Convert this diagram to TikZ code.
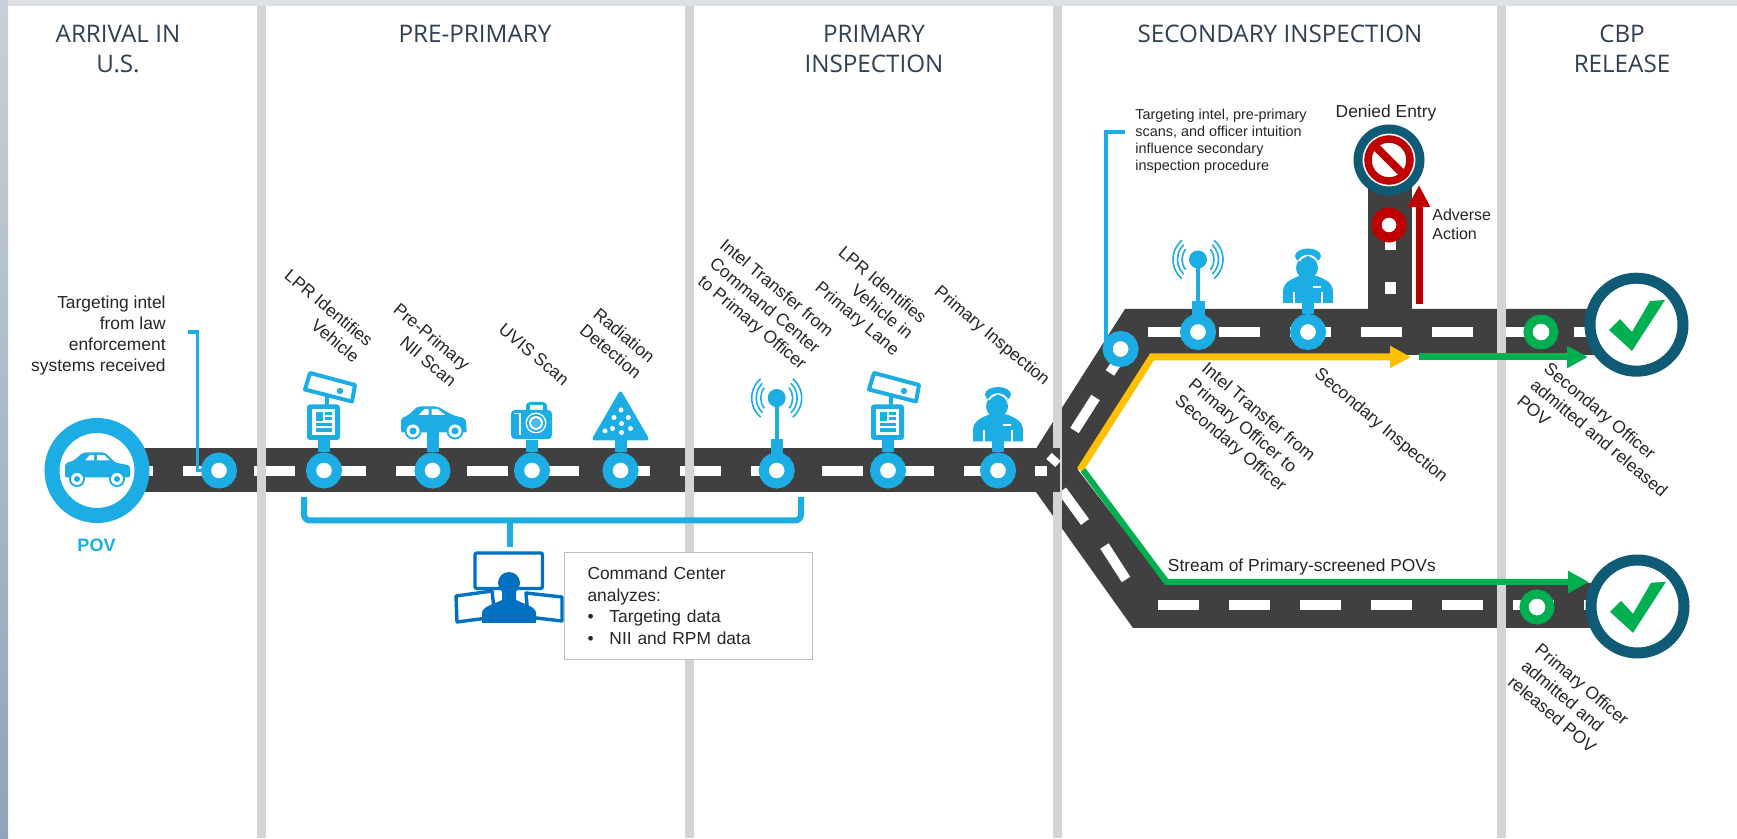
\documentclass[tikz,border=0pt]{standalone}
\usepackage{fontspec}
\setmainfont{Liberation Sans}
\newfontfamily\titlefont{Open Sans}
\usetikzlibrary{arrows.meta,calc}
\definecolor{stopblue}{HTML}{1CADE4}
\definecolor{cmdblue}{HTML}{0070C0}
\definecolor{roadgray}{HTML}{404040}
\definecolor{dividergray}{HTML}{D4D4D4}
\definecolor{titleink}{HTML}{2E4052}
\definecolor{ringteal}{HTML}{0F5A75}
\definecolor{okgreen}{HTML}{00B050}
\definecolor{stopred}{HTML}{C00000}
\definecolor{routeyellow}{HTML}{FFC000}
\definecolor{frametop}{HTML}{DDE1E6}
\definecolor{stripupper}{HTML}{C8D0D7}
\definecolor{striplower}{HTML}{8FA4B8}
\tikzstyle{phasetitle}=[font=\titlefont\fontsize{12.1}{15}\selectfont,text=titleink,align=center,inner sep=0pt]
\tikzstyle{stoplabel}=[font=\fontsize{8.7}{10.5}\selectfont,text=black!85,rotate=-40,align=right,anchor=east,inner sep=0pt]
\tikzstyle{stoplabelleft}=[stoplabel,align=left,anchor=west]
\tikzstyle{plainlabel}=[font=\fontsize{8.7}{10.5}\selectfont,text=black!85,inner sep=0pt]
\tikzstyle{stopring}=[circle,draw=stopblue,fill=white,line width=5pt,minimum size=13pt,inner sep=0pt]
\tikzstyle{greenring}=[stopring,draw=okgreen,line width=4.5pt,minimum size=13pt]
\tikzstyle{stopstem}=[line width=6pt,stopblue]
\tikzstyle{roaddash}=[line width=5pt,white]
\tikzstyle{checkring}=[circle,draw=ringteal,fill=white,line width=5.5pt,minimum size=46.5pt,inner sep=0pt]
\tikzstyle{feedline}=[line width=2pt,stopblue]
\tikzstyle{routeline}=[line width=3.5pt,-{Triangle[length=10.5pt,width=10.5pt]}]

\newcommand{\drawLPR}[1]{
\begin{scope}[shift={(#1.center)}]
	\draw[stopstem] (#1.north) -- ++(0,-12);
	\fill[stopblue] (1,-76) rectangle (5,-64);
	\draw[stopblue,fill=white,line width=2pt,line join=round] (-14,-97.5) -- (31,-85.5) -- (28,-69) -- (-19,-81) -- cycle;
	\fill[stopblue] (16,-79.5) circle (3.2);
	\fill[stopblue,rounded corners=1.5pt] (-17,-66) rectangle (16,-30.5);
	\fill[white] (-12,-61.5) rectangle (11,-35.5);
	\fill[stopblue] (-8,-58) rectangle (-1,-49);
	\fill[stopblue] (1,-58) rectangle (8,-55);
	\fill[stopblue] (1,-53) rectangle (8,-50);
	\fill[stopblue] (-8,-47) rectangle (8,-44);
	\fill[stopblue] (-8,-42) rectangle (8,-38.5);
\end{scope}
}
\newcommand{\drawauto}[1]{
\begin{scope}[shift={(#1.center)}]
	\draw[stopstem] (#1.north) -- ++(0,-20);
	\fill[stopblue,rounded corners=1pt] (-31.5,-38) -- (-31.5,-52) -- (-24,-55.5) -- (-15,-64) -- (5,-64) -- (20,-55.5) -- (33,-52) -- (34.5,-38) -- cycle;
	\fill[white] (-14,-55.5) -- (-8,-61.5) -- (-4,-61.5) -- (-4,-55.5) -- cycle;
	\fill[white] (-1,-55.5) -- (-1,-61.5) -- (5,-61.5) -- (13,-55.5) -- cycle;
	\foreach \w in {-19.5,22.5} {
		\fill[stopblue] (\w,-39.5) circle (8.5);
		\fill[white] (\w,-39.5) circle (6.5);
		\fill[stopblue] (\w,-39.5) circle (3.5);
	}
\end{scope}
}
\newcommand{\drawcamera}[1]{
\begin{scope}[shift={(#1.center)}]
	\draw[stopstem] (#1.north) -- ++(0,-12);
	\fill[stopblue,rounded corners=2pt] (-6,-68.5) rectangle (15,-55);
	\fill[white] (-2,-65.5) rectangle (11,-60.5);
	\fill[stopblue,rounded corners=2pt] (-21,-60.5) rectangle (20,-31.5);
	\draw[white,line width=.6pt] (-18,-57) -- (-12,-57) -- (-12,-35);
	\fill[white] (4,-47.5) circle (10.5);
	\fill[stopblue] (4,-47.5) circle (9);
	\fill[white] (4,-47.5) circle (7);
	\fill[stopblue!80] (4,-47.5) circle (5);
\end{scope}
}
\newcommand{\drawradiation}[1]{
\begin{scope}[shift={(#1.center)}]
	\draw[stopstem] (#1.north) -- ++(0,-12);
	\fill[stopblue,draw=stopblue,line width=2pt,line join=round] (0,-77) -- (-26,-32) -- (26,-32) -- cycle;
	\foreach \dx/\dy in {0.5/-60.5,-6.5/-53,7.8/-53,1/-47,-8/-42,10/-42,1/-38,-15.5/-39.5} {
		\fill[white] (\dx,\dy) circle (2.5);
	}
\end{scope}
}
\newcommand{\drawantenna}[1]{
\begin{scope}[shift={(#1.center)}]
	\fill[stopblue] (-6,-31) rectangle (6.5,-16);
	\draw[stopblue,line width=2pt] (0,-72) -- (0,-30);
	\fill[stopblue] (0,-72.5) circle (9);
	\foreach \r/\a in {16/40,20.5/46,25/50} {
		\draw[stopblue,line width=.8pt] (0,-72.5) ++(-\a:\r) arc[start angle=-\a,end angle=\a,radius=\r];
		\draw[stopblue,line width=.8pt] (0,-72.5) ++(180-\a:\r) arc[start angle=180-\a,end angle=180+\a,radius=\r];
	}
\end{scope}
}
\newcommand{\drawofficer}[1]{
\begin{scope}[shift={(#1.center)}]
	\draw[stopstem] (#1.north) -- ++(0,-14);
	\fill[stopblue] (-25,-29) -- (-25,-40) .. controls (-25,-50) and (-16,-53) .. (-9,-56) -- (9,-56) .. controls (16,-53) and (25,-50) .. (25,-40) -- (25,-29) -- cycle;
	\draw[white,line width=.7pt] (-14,-29) -- (-14,-40);
	\draw[white,line width=.7pt] (14,-29) -- (14,-40);
	\fill[white] (5,-46) rectangle (13,-44);
	\fill[stopblue] (-1,-64) circle (11);
	\fill[stopblue] (0,-76) ellipse (13 and 7.5);
	\draw[white,line width=1pt] (-9,-71) .. controls (-5,-78) and (5,-78) .. (9,-71);
	\fill[stopblue] (0,-74) circle (2.2);
\end{scope}
}
\newcommand{\drawcheckmark}[1]{
\begin{scope}[shift={(#1.center)}]
	\fill[okgreen] (-27.5,5.3) -- (-16.5,-5.7) -- (-4.5,7.3) -- (13.5,-23.7) -- (28.5,-24.7) -- (-4.5,26.3) -- cycle;
\end{scope}
}

\begin{document}
\begin{tikzpicture}[x=0.5pt,y=-0.5pt]
	\useasboundingbox (0,0) rectangle (1737,839);
	\fill[white] (0,0) rectangle (1737,839);
	\fill[frametop] (0,0) rectangle (1737,6);
	\shade[top color=stripupper,bottom color=striplower] (0,0) rectangle (8,839);

	% roads behind the third divider
	\fill[roadgray] (1037,447) -- (1125,309) -- (1600,309) -- (1600,355) -- (1151,355) -- (1078,470) -- (1165,583) -- (1600,583) -- (1600,628) -- (1133,628) -- (1036,492) -- cycle;
	\fill[roadgray] (1368,160) rectangle (1412,312);
	\foreach \x in {1148,1219,...,1574} {
		\draw[roaddash] (\x,332) -- ++(41,0);
	}
	\foreach \x in {1158,1229,...,1584} {
		\draw[roaddash] (\x,605) -- ++(41,0);
	}
	\draw[roaddash] (1074.5,430.5) -- (1095.5,397.5);
	\draw[roaddash] (1125,350) -- (1110,373);
	\draw[roaddash] (1104.5,546) -- (1126,579.5);
	\draw[roaddash] (1062,490.5) -- (1085,522);
	\draw[roaddash,line width=5.5pt] (1390,210) -- (1390,250);
	\draw[roaddash,line width=5.5pt] (1390,282) -- (1390,294);
	\fill[dividergray] (1053,6) rectangle (1062,838);

	% main road
	\fill[roadgray] (97,448) rectangle (1060,492);
	\foreach \x in {112,183,...,964} {
		\draw[roaddash] (\x,471) -- ++(41,0);
	}
	\draw[roaddash] (1035,471) -- (1047,471);
	\draw[roaddash,line width=4pt] (1049,456) -- (1058,464);
	\foreach \x in {257,685,1497} {
		\fill[dividergray] (\x,6) rectangle (\x+8.5,838);
	}

	% phase titles
	\node[phasetitle] (arrivaltitle) at (118,49) {ARRIVAL IN\\U.S.};
	\node[phasetitle] (preprimarytitle) at (475,34) {PRE-PRIMARY};
	\node[phasetitle] (primarytitle) at (874,49) {PRIMARY\\INSPECTION};
	\node[phasetitle] (secondarytitle) at (1280,34) {SECONDARY INSPECTION};
	\node[phasetitle] (releasetitle) at (1622,49) {CBP\\RELEASE};

	% routes through the fork
	\coordinate (forktop) at (1080,470);
	\coordinate (forklow) at (1083,470);
	\coordinate (bendtop) at (1152,357);
	\coordinate (bendlow) at (1166.6,582);
	\coordinate (yellowtip) at (1411,357);
	\coordinate (greentop) at (1419,357);
	\coordinate (greentoptip) at (1588,357);
	\coordinate (greenlowtip) at (1589,582);
	\draw[routeline,routeyellow,miter limit=10] (forktop) -- (bendtop) -- (yellowtip);
	\draw[routeline,okgreen] (greentop) -- (greentoptip);
	\draw[routeline,okgreen,line width=3pt] (forklow) -- (bendlow) -- (greenlowtip);

	% arrival
	\node[circle,draw=stopblue,fill=white,line width=7.5pt,minimum size=45pt,inner sep=0pt] (pov) at (97,470.5) {};
	\begin{scope}[shift={(pov.center)},scale=1]
		\fill[stopblue,rounded corners=1pt] (-32,7) -- (-32,-7) -- (-23,-10) -- (-14,-18) -- (8,-18) -- (18,-8) -- (33,-5) -- (33,7) -- cycle;
		\fill[white] (-12,-10) -- (-7,-15.5) -- (-3,-15.5) -- (-3,-10) -- cycle;
		\fill[white] (0,-10) -- (0,-15.5) -- (7,-15.5) -- (13,-10) -- cycle;
		\foreach \w in {-20,20} {
			\fill[stopblue] (\w,8.5) circle (8);
			\fill[white] (\w,8.5) circle (6);
			\fill[stopblue] (\w,8.5) circle (3);
		}
	\end{scope}
	\node[font=\bfseries\fontsize{9}{11}\selectfont,text=stopblue,inner sep=0pt] (povlabel) at (96.5,545) {POV};
	\node[stopring] (intelstop) at (219,470.5) {};
	\coordinate (intelfeed) at (188,332);
	\draw[feedline,line width=1.6pt] (intelfeed) -- (197.5,332) -- (197.5,470.5) -- (intelstop.west);
	\node[plainlabel,align=right,anchor=north east] (intellabel) at (166,295) {Targeting intel\\from law\\enforcement\\systems received};

	% stops along the main road
	\node[stopring] (lprA) at (324,470.5) {};
	\node[stopring] (niiscan) at (432.5,470.5) {};
	\node[stopring] (uvis) at (532,470.5) {};
	\node[stopring] (radiation) at (620.5,470.5) {};
	\node[stopring] (intelA) at (776.7,470.5) {};
	\node[stopring] (lprB) at (888,470.5) {};
	\node[stopring] (primary) at (998,470.5) {};
	\drawLPR{lprA}
	\drawauto{niiscan}
	\drawcamera{uvis}
	\drawradiation{radiation}
	\drawantenna{intelA}
	\drawLPR{lprB}
	\drawofficer{primary}
	\node[stoplabel] (lprAlabel) at (364,351) {LPR Identifies\\Vehicle};
	\node[stoplabel] (niilabel) at (461,375) {Pre-Primary\\NII Scan};
	\node[stoplabel] (uvislabel) at (567,382) {UVIS Scan};
	\node[stoplabel] (radiationlabel) at (646,367) {Radiation\\Detection};
	\node[stoplabel] (intelAlabel) at (817,351) {Intel Transfer from\\Command Center\\to Primary Officer};
	\node[stoplabel] (lprBlabel) at (910,337) {LPR Identifies\\Vehicle in\\Primary Lane};
	\node[stoplabel] (primarylabel) at (1047,383) {Primary Inspection};

	% command center
	\coordinate (braceL) at (304,497);
	\coordinate (braceR) at (801,497);
	\coordinate (braceM) at (509.5,520.5);
	\coordinate (braceT) at (509.5,547);
	\draw[stopblue,line width=3pt,rounded corners=3pt] (braceL) -- (304,520.5) -- (801,520.5) -- (braceR);
	\draw[stopblue,line width=3pt] (braceM) -- (braceT);
	\draw[cmdblue,fill=white,line width=1.7pt,rounded corners=1pt] (475,553) rectangle (542.5,588.5);
	\draw[cmdblue,fill=white,line width=1.7pt,line join=round] (456,596) -- (492,591) -- (495,617) -- (457,622) -- cycle;
	\draw[cmdblue,fill=white,line width=1.7pt,line join=round] (526,593) -- (562,597) -- (562,621) -- (528,617) -- cycle;
	\fill[cmdblue] (509,583) circle (11);
	\fill[cmdblue] (482,623) -- (482,612) .. controls (484,606) and (494,604) .. (502,600) -- (502,590) -- (516,590) -- (516,600) .. controls (524,604) and (534,606) .. (536,612) -- (536,623) -- cycle;
	\node[draw=black!25,fill=white,line width=.5pt,anchor=north west,text width=101pt,minimum height=53.5pt,inner xsep=11.5pt,inner ysep=0pt,align=left,font=\fontsize{8.7}{10.75}\selectfont,text=black!85] (cmdbox) at (564,552) {Command Center\\analyzes:\\\makebox[11pt][l]{•}Targeting data\\\makebox[11pt][l]{•}NII and RPM data};

	% secondary inspection
	\node[stopring,draw=stopblue] (secondfeed) at (1120.6,349) {};
	\node[stopring] (intelB) at (1198,332) {};
	\node[stopring] (secondary) at (1308,332) {};
	\coordinate (feedtext) at (1125,132);
	\draw[feedline] (feedtext) -- (1106,132) -- (1106,349) -- (secondfeed.west);
	\drawantenna{intelB}
	\drawofficer{secondary}
	\node[anchor=north west,align=left,inner sep=0pt,font=\fontsize{7.2}{8.6}\selectfont,text=black!85] (secondnote) at (1135,108.5) {Targeting intel, pre-primary\\scans, and officer intuition\\influence secondary\\inspection procedure};
	\node[stoplabelleft] (intelBlabel) at (1190,383) {Intel Transfer from\\Primary Officer to\\Secondary Officer};
	\node[stoplabel] (secondarylabel) at (1445,480) {Secondary Inspection};
	\node[plainlabel,anchor=west] (streamlabel) at (1167.5,567) {Stream of Primary-screened POVs};

	% denied entry
	\node[circle,draw=stopred,fill=white,line width=5pt,minimum size=12.5pt,inner sep=0pt] (redstop) at (1389,225) {};
	\node[circle,draw=ringteal,fill=white,line width=4.5pt,minimum size=31pt,inner sep=0pt] (deniedring) at (1389,160) {};
	\node[circle,draw=stopred,line width=3.75pt,minimum size=21pt,inner sep=0pt] (deniedsign) at (1389,160) {};
	\draw[stopred,line width=4pt] (deniedsign.north west) -- (deniedsign.south east);
	\node[plainlabel] (deniedlabel) at (1386,113) {Denied Entry};
	\coordinate (adversefoot) at (1419,304);
	\coordinate (adversetip) at (1419,185);
	\draw[stopred,line width=3.5pt,-{Triangle[length=11pt,width=10.5pt]}] (adversefoot) -- (adversetip);
	\node[plainlabel,anchor=west,align=left,font=\fontsize{8}{9.5}\selectfont] (adverselabel) at (1432,224.5) {Adverse\\Action};

	% release
	\node[greenring] (releaseA) at (1541,332) {};
	\node[greenring] (releaseB) at (1537,607) {};
	\node[checkring] (okA) at (1636.5,324.7) {};
	\node[checkring] (okB) at (1637.5,606.5) {};
	\drawcheckmark{okA}
	\drawcheckmark{okB}
	\node[stoplabelleft] (releaseAlabel) at (1533,382) {Secondary Officer\\admitted and released\\POV};
	\node[stoplabelleft] (releaseBlabel) at (1524,663) {Primary Officer\\admitted and\\released POV};
\end{tikzpicture}
\end{document}
